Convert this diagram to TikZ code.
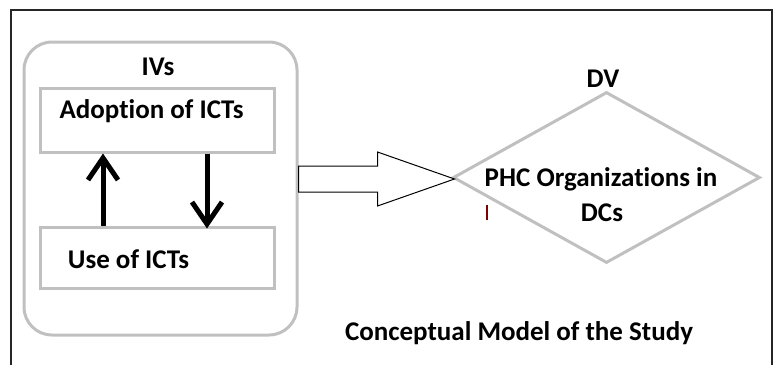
\documentclass[tikz,border=0pt]{standalone}
\usepackage{fontspec}
\setmainfont{Carlito}[RawFeature={-liga}]
\usetikzlibrary{shapes.geometric,arrows.meta,calc}
\definecolor{boxgray}{RGB}{192,192,192}
\begin{document}
\begin{tikzpicture}[x=1pt,y=-1pt,
  lbl/.style={font=\fontsize{27}{32}\selectfont\bfseries, inner sep=0pt, anchor=base},
  graybox/.style={draw=boxgray, line width=3pt, inner sep=0pt},
  flowarrow/.style={line width=5pt, -{Straight Barb[length=22pt,width=30pt]}}]
\useasboundingbox (0,0) rectangle (778,364);
\draw[line width=1.2pt, black!85] (11,366) -- (11,10) -- (772,10) -- (772,366);
% IVs group
\node[graybox, rounded corners=28pt, minimum width=273pt, minimum height=293pt] (ivs) at (160.5,188.5) {};
\node[lbl] (ivslbl) at (158,75) {IVs};
\node[graybox, minimum width=234pt, minimum height=64pt] (adopt) at (157,120) {};
\node[lbl] (adopttxt) at (151.5,118) {Adoption of ICTs};
\node[graybox, minimum width=234pt, minimum height=61pt] (use) at (157,257.5) {};
\node[lbl] (usetxt) at (128.5,268) {Use of ICTs};
\coordinate (upx) at (103,0);
\coordinate (downx) at (207,0);
\draw[flowarrow] (use.north -| upx) -- (adopt.south -| upx);
\draw[flowarrow, shorten >=-3pt] (adopt.south -| downx) -- (use.north -| downx);
% DV
\node[diamond, graybox, minimum width=307pt, minimum height=171pt] (dv) at (606.5,177.5) {};
\node[lbl] (dvlbl) at (603,87) {DV};
\node[lbl] (phc1) at (601,186) {PHC Organizations in};
\node[lbl] (phc2) at (602,221) {DCs};
% block arrow
\coordinate (tip) at ($(dv.west)+(3,1.5)$);
\coordinate (start) at (ivs.east |- tip);
\draw[line width=1pt, black]
  ($(start)+(0,-13)$) -- ($(tip)+(-77,-13)$) -- ($(tip)+(-77,-27)$) -- (tip)
  -- ($(tip)+(-77,27)$) -- ($(tip)+(-77,13)$) -- ($(start)+(0,13)$) -- cycle;
\draw[draw=red!50!black, line width=1.5pt] (487,205) -- (487,220);
% caption
\node[lbl] (cap) at (519,340) {Conceptual Model of the Study};
\end{tikzpicture}
\end{document}
